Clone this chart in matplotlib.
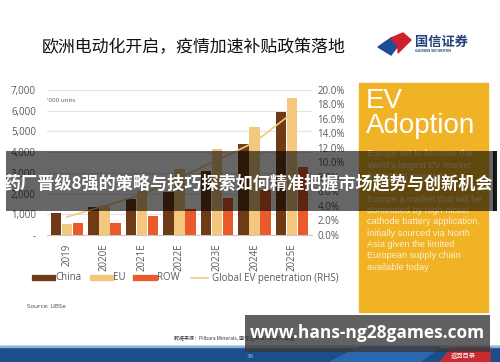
import matplotlib
matplotlib.use('Agg')
import matplotlib.pyplot as plt
from matplotlib.patches import Rectangle, Polygon
from matplotlib.lines import Line2D
from matplotlib.ticker import FuncFormatter
import numpy as np

# ---------------- data ----------------
years = ['2019', '2020E', '2021E', '2022E', '2023E', '2024E', '2025E']
china = [1050, 1350, 1730, 2060, 3100, 4380, 5960]
eu = [530, 1400, 2130, 3200, 4170, 5220, 6600]
row = [580, 600, 920, 1240, 1770, 2150, 3300]
penetration = [2.5, 4.0, 5.6, 7.9, 10.3, 12.8, 16.8]   # % (RHS)
left_ticks = [0, 1000, 2000, 3000, 4000, 5000, 6000, 7000]
right_ticks = [0, 2, 4, 6, 8, 10, 12, 14, 16, 18, 20]
legend_labels = ['China', 'EU', 'ROW', 'Global EV penetration (RHS)']

title = '欧洲电动化开启，疫情加速补贴政策落地'
banner_text = '药厂晋级8强的策略与技巧探索如何精准把握市场趋势与创新机会'
url_text = 'www.hans-ng28games.com'
box_body = ["Europe set to become the", "world's largest EV market",
            "from 2021 onwards", "",
            "Europe a market that will be", "dominated by high-nickel",
            "cathode battery application,", "initially sourced via North",
            "Asia given the limited", "European supply chain",
            "available today"]

C_CHINA = '#6E3B16'
C_EU = '#F3C77D'
C_ROW = '#EA5A2B'
C_LINE = '#F2C97E'
C_TXT = '#595959'

W, H = 500, 362
plt.rcParams['font.family'] = ['Open Sans', 'Noto Sans CJK SC', 'DejaVu Sans']
CJK = ['Noto Sans CJK SC', 'DejaVu Sans']

fig = plt.figure(figsize=(W / 100, H / 100), dpi=100)
fig.patch.set_facecolor('white')


def fx(x):
    return x / W


def fy(y):
    return 1 - y / H


# ---------------- chart ----------------
ax = fig.add_axes([fx(47), fy(235), (312 - 47) / W, (235 - 90) / H])
x = np.arange(len(years))
bw = 0.275
off = 0.293
ax.bar(x - off, china, bw, color=C_CHINA, zorder=3)
ax.bar(x, eu, bw, color=C_EU, zorder=3)
ax.bar(x + off, row, bw, color=C_ROW, zorder=3)
ax.set_xlim(-0.53, 6.53)
ax.set_ylim(0, 7000)
ax.set_yticks(left_ticks)
ax.yaxis.set_major_formatter(FuncFormatter(lambda v, p: '-' if v == 0 else f'{int(v):,}'))
ax.grid(axis='y', color='#E3E3E3', lw=0.8, zorder=0)
for s in ['top', 'right', 'left']:
    ax.spines[s].set_visible(False)
ax.spines['bottom'].set_color('#C8C8C8')
ax.spines['bottom'].set_linewidth(0.8)
ax.set_xticks(x)
ax.set_xticklabels(years, rotation=90)
ax.tick_params(axis='y', length=0, pad=8, labelsize=7, labelcolor=C_TXT)
ax.tick_params(axis='x', length=0, pad=6, labelsize=7, labelcolor=C_TXT)
ax.text(0.0, 0.93, "'000 units", transform=ax.transAxes, fontsize=4.5, color=C_TXT,
        va='center', ha='left')

ax2 = ax.twinx()
ax2.plot(x, penetration, color=C_LINE, lw=1.2, zorder=4)
ax2.set_ylim(0, 20)
ax2.set_yticks(right_ticks)
ax2.yaxis.set_major_formatter(FuncFormatter(lambda v, p: f'{v:.1f}%'))
for s in ['top', 'right', 'left', 'bottom']:
    ax2.spines[s].set_visible(False)
ax2.tick_params(axis='y', length=0, pad=4, labelsize=7, labelcolor=C_TXT)

# legend (manual)
ly = fy(278)
leg = [(35, 53, 55, C_CHINA, 4.5), (93, 111, 113, C_EU, 4.5), (136, 155, 157, C_ROW, 4.5),
       (191, 208, 212, C_LINE, 1.2)]
for (x0, x1, xt, c, lw), lab in zip(leg, legend_labels):
    fig.add_artist(Line2D([fx(x0), fx(x1)], [ly, ly], color=c, lw=lw,
                          transform=fig.transFigure))
    fig.text(fx(xt), ly, lab, fontsize=7, color=C_TXT, va='center', ha='left')

fig.text(fx(27), fy(307), 'Source: UBSe', fontsize=4.5, color='#404040', va='center')

# ---------------- title & logo ----------------
fig.text(fx(42), fy(47), title, family=CJK, fontsize=12.2, color='#111111',
         va='center', ha='left')
fig.add_artist(Polygon([(fx(378), fy(47)), (fx(391), fy(38)), (fx(398), fy(46)),
                        (fx(391), fy(55))], closed=True, color='#1F4E96',
                       transform=fig.transFigure))
fig.add_artist(Polygon([(fx(391), fy(38)), (fx(403), fy(33)), (fx(411), fy(40)),
                        (fx(398), fy(53)), (fx(398), fy(46))], closed=True,
                       color='#D0202A', transform=fig.transFigure))
fig.text(fx(415), fy(42), '国信证券', family=CJK, fontsize=9.5, color='#23407A',
         va='center', ha='left', fontweight='bold')
fig.text(fx(415), fy(51.5), 'GUOSEN SECURITIES', fontsize=2.6, color='#23407A',
         va='center', ha='left', fontweight='bold')

# ---------------- yellow box ----------------
fig.add_artist(Rectangle((fx(359), fy(312)), (488 - 359) / W, (312 - 83) / H,
                         color='#F0B325', transform=fig.transFigure, zorder=1))
fig.text(fx(366), fy(101), 'EV', family=['Liberation Sans'], fontsize=20,
         color='white', va='center', ha='left', zorder=2)
fig.text(fx(366), fy(126), 'Adoption', family=['Liberation Sans'], fontsize=20,
         color='white', va='center', ha='left', zorder=2)
yy = 154
for line in box_body:
    fig.text(fx(367), fy(yy), line, family=['Liberation Sans'], fontsize=6.6,
             color='#FDF0D2', va='center', ha='left', zorder=2)
    yy += 11.3

# ---------------- bottom strip ----------------
fig.text(fx(174), fy(338), '数据来源：Pilbara Minerals, 国信证券经济研究所整理',
         family=CJK, fontsize=3.6, color='#333333', va='center', ha='left')
fig.add_artist(Rectangle((0, 0), 1, (362 - 346) / H, color='#1C4E8C',
                         transform=fig.transFigure, zorder=1))
fig.add_artist(Rectangle((0, fy(347)), 1, 1.2 / H, color='#8DB2D8',
                         transform=fig.transFigure, zorder=2))
fig.add_artist(Polygon([(fx(330), 0), (fx(360), fy(347)), (fx(440), fy(347)),
                        (fx(420), 0)], closed=True, color='#2B67AE',
                       transform=fig.transFigure, zorder=2))
fig.add_artist(Polygon([(fx(440), 0), (fx(452), fy(348)), (fx(490), fy(348)),
                        (fx(490), 0)], closed=True, color='#C62B2F',
                       transform=fig.transFigure, zorder=3))
fig.text(fx(250), fy(356), '38', fontsize=4.5, color='#9DB3CF', va='center',
         ha='center', zorder=4)
fig.text(fx(463), fy(356), '返回目录', family=CJK, fontsize=4.5, color='white',
         va='center', ha='center', zorder=4)

# ---------------- overlays ----------------
fig.add_artist(Rectangle((fx(6), fy(210.5)), (494 - 6) / W, (210.5 - 151) / H,
                         facecolor='black', alpha=0.6, lw=0,
                         transform=fig.transFigure, zorder=100))
fig.add_artist(Rectangle((fx(493), fy(210.5)), 4 / W, (210.5 - 151) / H,
                         facecolor='black', alpha=0.9, lw=0,
                         transform=fig.transFigure, zorder=100))
fig.text(fx(248), fy(183), banner_text, family=CJK, fontsize=12.3,
         fontweight='bold', color='white', va='center', ha='center', zorder=101)

fig.add_artist(Rectangle((fx(245), fy(352)), (490 - 245) / W, (352 - 315) / H,
                         facecolor='#3a3a3a', alpha=0.8, lw=0,
                         transform=fig.transFigure, zorder=100))
fig.text(fx(367), fy(333), url_text, fontsize=12.5, fontweight='bold',
         family=['Open Sans', 'DejaVu Sans'], color='white', va='center',
         ha='center', zorder=101)

fig.savefig('out.png', dpi=100, facecolor='white')
